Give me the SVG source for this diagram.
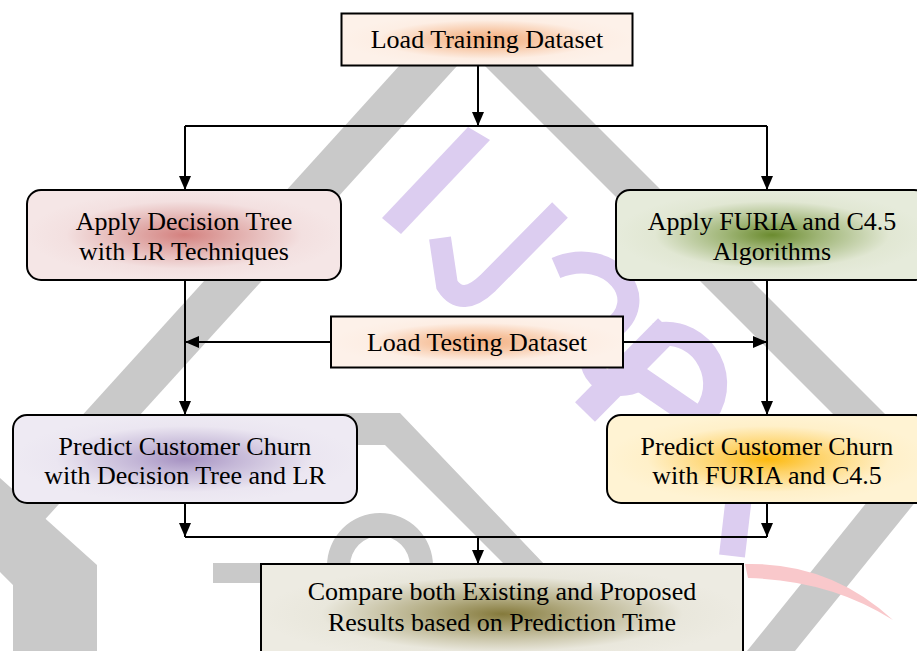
<svg xmlns="http://www.w3.org/2000/svg" width="917" height="651" viewBox="0 0 917 651">
<style>
.box{stroke:#000;stroke-width:2}
.lbl{font-family:"Liberation Serif","Times New Roman",serif;font-size:26px;fill:#000;text-anchor:middle}
.wm{fill:#c9c9c9}
.wp{fill:none;stroke:#dccdf0;stroke-linecap:butt}
.con{fill:none;stroke:#000;stroke-width:2}
</style>
<defs>
<marker id="ah" markerUnits="userSpaceOnUse" markerWidth="14" markerHeight="12" refX="14" refY="6" orient="auto">
<path d="M0,0 L14,6 L0,12 Z" fill="#000"/>
</marker>
<radialGradient id="gPeach"><stop offset="0" stop-color="#f4ae7e"/><stop offset="0.3" stop-color="#f7c4a0"/><stop offset="0.75" stop-color="#fdeee4"/><stop offset="1" stop-color="#fdf1e9"/></radialGradient>
<radialGradient id="gPink"><stop offset="0" stop-color="#d4817f"/><stop offset="0.3" stop-color="#e0a9a7"/><stop offset="0.75" stop-color="#f3e0e0"/><stop offset="1" stop-color="#f5e6e6"/></radialGradient>
<radialGradient id="gGreen"><stop offset="0" stop-color="#6b8b2f"/><stop offset="0.3" stop-color="#9fb576"/><stop offset="0.75" stop-color="#e1e7d3"/><stop offset="1" stop-color="#e6ebdb"/></radialGradient>
<radialGradient id="gLav"><stop offset="0" stop-color="#a692c2"/><stop offset="0.3" stop-color="#c4b7d7"/><stop offset="0.75" stop-color="#ebe6f1"/><stop offset="1" stop-color="#eeeaf3"/></radialGradient>
<radialGradient id="gYel"><stop offset="0" stop-color="#fdb90c"/><stop offset="0.3" stop-color="#fed266"/><stop offset="0.75" stop-color="#fff0c9"/><stop offset="1" stop-color="#fff3d3"/></radialGradient>
<radialGradient id="gOlive"><stop offset="0" stop-color="#857a3c"/><stop offset="0.3" stop-color="#b1aa80"/><stop offset="0.75" stop-color="#e9e7dc"/><stop offset="1" stop-color="#edebe2"/></radialGradient>
</defs>

<g id="watermark">
<polygon class="wm" points="409,55 467,55 0,569 0,506"/>
<polygon class="wm" points="474,55 526,55 917,446 917,498"/>
<polygon class="wm" points="747,651 795,651 917,500 917,440"/>
<polygon class="wm" points="0,478 97,565 97,651 13,651 13,585 0,572"/>
<polygon class="wm" points="200,413 400,413 545,565 505,565 385,445 200,445"/>
<path class="wm" d="M327,566 A53,53 0 0 1 433,566 L410,566 A30,30 0 0 0 350,566 Z"/>
<rect class="wm" x="213" y="563" width="100" height="20"/>
<polygon fill="#dccdf0" points="468,127 490,140 401,234 382,218"/>
<path class="wp" stroke-width="22" d="M560,210 L488,283 Q462,308 447,285 L440,238"/>
<path class="wp" stroke-width="22" d="M556,268 C610,245 655,300 610,330 C570,355 600,400 640,380"/>
<path class="wp" stroke-width="28" d="M585,412 L668,328"/>
<path class="wp" stroke-width="24" d="M655,335 C705,325 735,385 700,420 L630,372"/>
<path class="wp" stroke-width="26" d="M700,425 L742,470 L732,556"/>
<path fill="#f9c8cb" d="M745,564 Q830,562 893,620 Q830,580 748,578 Z"/>
</g>

<g id="connectors">
<line class="con" x1="478" y1="66" x2="478" y2="126" marker-end="url(#ah)"/>
<line class="con" x1="185" y1="126" x2="767" y2="126"/>
<path class="con" d="M185,126 L185,190" marker-end="url(#ah)"/>
<path class="con" d="M767,126 L767,190" marker-end="url(#ah)"/>
<path class="con" d="M185,280 L185,415" marker-end="url(#ah)"/>
<path class="con" d="M767,280 L767,415" marker-end="url(#ah)"/>
<path class="con" d="M331,342 L185,342" marker-end="url(#ah)"/>
<path class="con" d="M623,342 L767,342" marker-end="url(#ah)"/>
<path class="con" d="M185,503 L185,537" marker-end="url(#ah)"/>
<path class="con" d="M767,503 L767,537" marker-end="url(#ah)"/>
<line class="con" x1="185" y1="537" x2="767" y2="537"/>
<path class="con" d="M478,537 L478,564" marker-end="url(#ah)"/>
</g>

<g id="load-training">
<rect class="box" x="341.5" y="13.5" width="291" height="52" fill="url(#gPeach)"/>
<text class="lbl" x="487" y="48">Load Training Dataset</text>
</g>
<g id="apply-dt">
<rect class="box" x="27" y="190" width="314" height="90" rx="14" fill="url(#gPink)"/>
<text class="lbl" x="184" y="230">Apply Decision Tree</text>
<text class="lbl" x="184" y="260">with LR Techniques</text>
</g>
<g id="apply-furia">
<rect class="box" x="616" y="190" width="312" height="90" rx="14" fill="url(#gGreen)"/>
<text class="lbl" x="772" y="230">Apply FURIA and C4.5</text>
<text class="lbl" x="772" y="260">Algorithms</text>
</g>
<g id="load-testing">
<rect class="box" x="331" y="316.5" width="292" height="51" fill="url(#gPeach)"/>
<text class="lbl" x="477" y="351">Load Testing Dataset</text>
</g>
<g id="predict-dt">
<rect class="box" x="13" y="415" width="344" height="88" rx="14" fill="url(#gLav)"/>
<text class="lbl" x="185" y="455">Predict Customer Churn</text>
<text class="lbl" x="185" y="484">with Decision Tree and LR</text>
</g>
<g id="predict-furia">
<rect class="box" x="607" y="415" width="322" height="88" rx="14" fill="url(#gYel)"/>
<text class="lbl" x="767" y="455">Predict Customer Churn</text>
<text class="lbl" x="767" y="484">with FURIA and C4.5</text>
</g>
<g id="compare">
<rect class="box" x="261" y="564" width="482" height="100" fill="url(#gOlive)"/>
<text class="lbl" x="502" y="600">Compare both Existing and Proposed</text>
<text class="lbl" x="502" y="631">Results based on Prediction Time</text>
</g>
</svg>
